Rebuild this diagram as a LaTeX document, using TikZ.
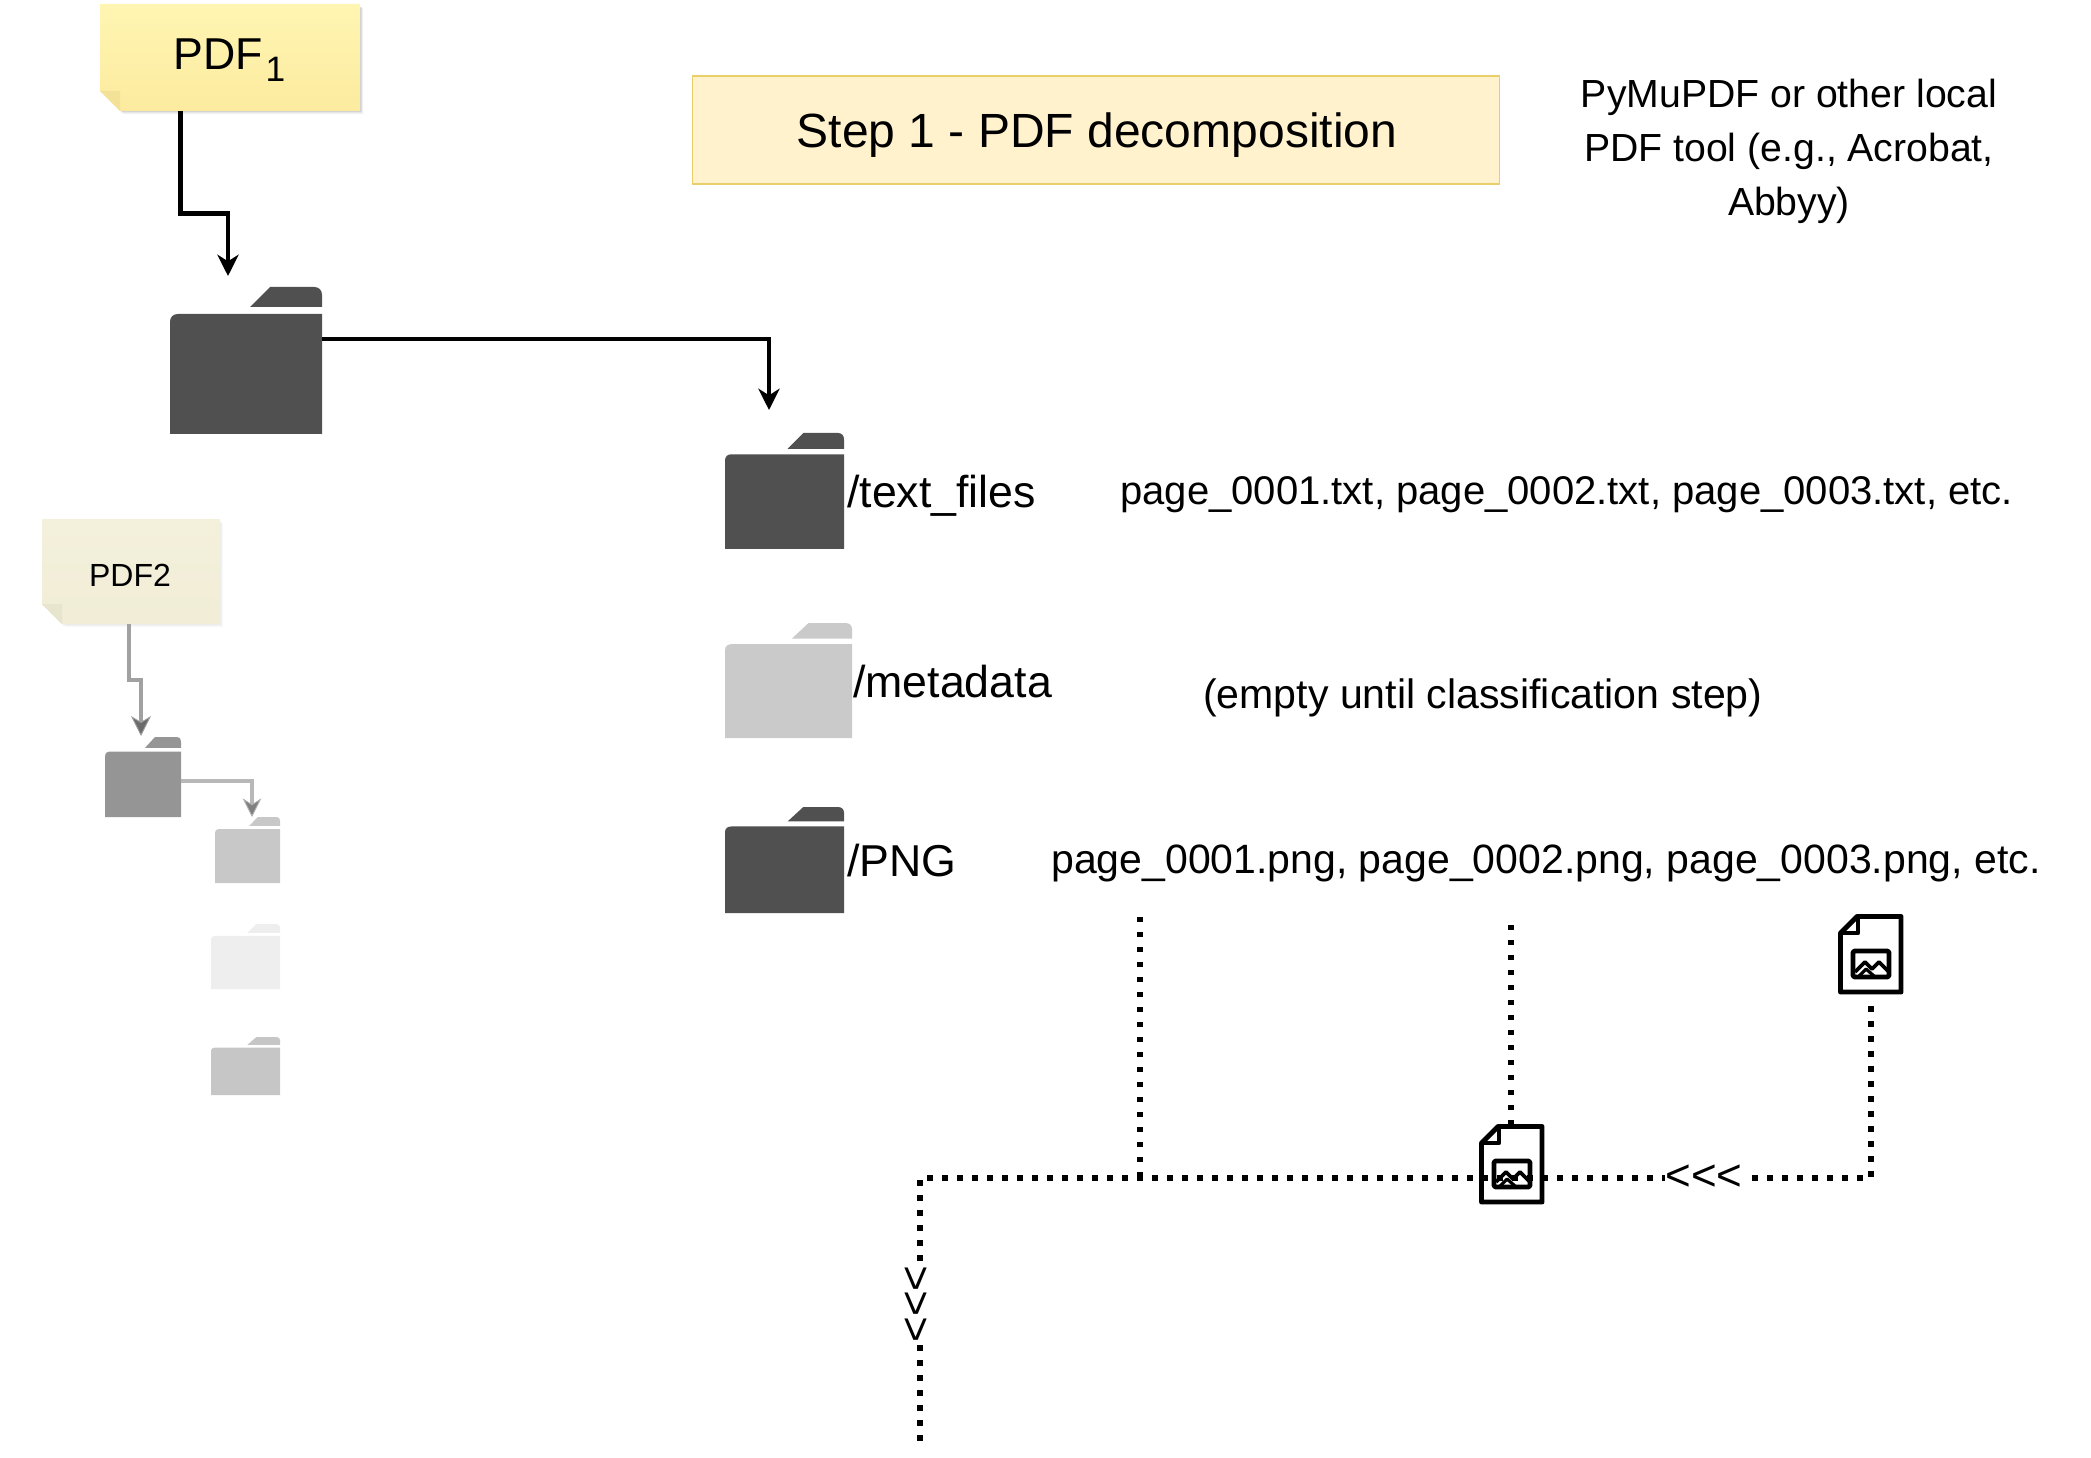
\documentclass[tikz,border=0pt]{standalone}
\usepackage{fontspec}
\setmainfont{Liberation Sans}
\usetikzlibrary{arrows.meta,calc,fit}
\definecolor{darkf}{HTML}{505050}
\definecolor{metaf}{HTML}{CACACA}
\definecolor{gmain}{HTML}{959595}
\definecolor{gtext}{HTML}{C8C8C8}
\definecolor{gmeta}{HTML}{EEEEEE}
\definecolor{gpng}{HTML}{C6C6C6}
\definecolor{titlefill}{HTML}{FFF2CC}
\definecolor{titleline}{HTML}{E8CF6A}
\definecolor{notetop}{HTML}{FFF5B2}
\definecolor{notebot}{HTML}{FCEB9F}
\definecolor{notefold}{HTML}{F2E196}
\definecolor{palesttop}{HTML}{F3F0DC}
\definecolor{palestbot}{HTML}{F1EDD6}
\definecolor{palestfold}{HTML}{E8E5CE}
\newcommand{\fsz}[1]{\fontsize{#1}{#1}\selectfont}
\tikzset{
  blackarrow/.style={draw=black,line width=3.4pt,-{Stealth[length=16pt,width=16pt,inset=5pt]}},
  greyarrow/.style={draw=black!37,line width=3pt,-{Stealth[length=15pt,width=15pt,inset=4.5pt,color=black!37,fill=black!58,line width=.6pt]}},
  paleyarrow/.style={draw=black!28,line width=3pt,-{Stealth[length=14pt,width=14pt,inset=4.5pt,color=black!30,fill=black!50,line width=.6pt]}},
  dots/.style={draw=black,line width=4pt,dash pattern=on 4pt off 7.25pt},
  label/.style={inner sep=0pt,anchor=base west,text=black},
  glyphs/.style={inner sep=0pt,fill=white,text=black,font=\fsz{33}},
}
% name, x0, ytop, x1, ybottom, colour
\newcommand{\folderbox}[6]{%
  \pgfmathsetmacro{\fw}{(#4-#2)/152}\pgfmathsetmacro{\fh}{(#5-#3)/147}%
  \begin{scope}[shift={(#2,#3)},xscale=\fw,yscale=\fh]
    \fill[#6] (0,147) -- (0,35) .. controls (0,30) and (3,27) .. (8,27) -- (152,27) -- (152,147) -- cycle;
    \fill[#6] (80,20) -- (100,0) -- (144,0) .. controls (149,0) and (152,3) .. (152,8) -- (152,20) -- cycle;
  \end{scope}
  \node[fit={(#2,#3)(#4,#5)},inner sep=0pt] (#1) {};%
}
% name, x0, y0, x1, y1, top colour, bottom colour, fold colour, shadow opacity
\newcommand{\notebox}[9]{%
  \pgfmathsetmacro{\halfop}{#9*0.5}%
  \fill[black,opacity=\halfop] (#2+4,#3+4) -- (#4+3,#3+4) -- (#4+3,#5+3) -- (#2+23,#5+3) -- cycle;
  \fill[black,opacity=#9] (#2+4,#3+3) -- (#4+1.5,#3+3) -- (#4+1.5,#5+1.5) -- (#2+21,#5+1.5) -- cycle;
  \shade[top color=#6,bottom color=#7] (#2,#3) -- (#4,#3) -- (#4,#5) -- (#2+20,#5) -- (#2,#5-20) -- cycle;
  \fill[#8] (#2,#5-20) -- (#2+20,#5-20) -- (#2+20,#5) -- cycle;
  \node[fit={(#2,#3)(#4,#5)},inner sep=0pt] (#1) {};%
}
% name, x0, y0
\newcommand{\docicon}[3]{%
  \begin{scope}[shift={(#2,#3)},line join=round]
    \draw[line width=3.7pt] (2.5,19) -- (19,2.5) -- (63,2.5) -- (63,78) -- (2.5,78) -- cycle;
    \draw[line width=3.2pt] (20,4) -- (20,19) -- (4,19);
    \draw[line width=3.5pt,rounded corners=1pt] (15,37) rectangle (51,63);
    \draw[line width=2.8pt] (17,58) -- (27,48) -- (34,55) -- (41,48) -- (50,57);
    \draw[line width=2.4pt] (21,62) -- (28,55) -- (36,62);
  \end{scope}
  \node[fit={(#2,#3)(#2+65,#3+80)},inner sep=0pt] (#1) {};%
}
\begin{document}
\begin{tikzpicture}[x=0.75pt,y=-0.75pt]
\useasboundingbox (0,0) rectangle (2091,1458);

% notes
\notebox{pdfa}{100}{4}{360}{111}{notetop}{notebot}{notefold}{.12}
\node[inner sep=0pt,font=\fsz{33.5}] (pdfatext) at (229.5,60) {PDF\raisebox{-9pt}{\kern2pt\fsz{26.5}1}};
\notebox{pdfb}{42}{519}{220}{624}{palesttop}{palestbot}{palestfold}{.05}
\node[inner sep=0pt,font=\fsz{24}] (pdfbtext) at (130,575) {PDF2};

% title
\node[draw=titleline,fill=titlefill,line width=.9pt,minimum width=605pt,minimum height=81pt,inner sep=0pt] (title) at (1096,130) {};
\node[inner sep=0pt,font=\fsz{36}] (titletext) at (1097,135) {Step 1 - PDF decomposition};
\node[align=center,inner sep=0pt,font=\fontsize{29.4}{40.5}\selectfont,text=black] (tool) at (1789,151) {PyMuPDF or other local\\PDF tool (e.g., Acrobat,\\Abbyy)};

% folders
\folderbox{f1}{170}{287}{322}{434}{darkf}
\folderbox{ftext}{725}{433}{844}{549}{darkf}
\folderbox{fmeta}{725}{623}{852}{738}{metaf}
\folderbox{fpng}{725}{807}{844}{913}{darkf}
\folderbox{g1}{105}{737}{181}{817}{gmain}
\folderbox{gt}{215}{817}{280}{883}{gtext}
\folderbox{gm}{211}{924}{280}{989}{gmeta}
\folderbox{gp}{211}{1037}{280}{1095}{gpng}

% folder labels
\node[label,font=\fsz{33.5}] (ltext) at (847,508) {/text\_files};
\node[label,font=\fsz{33.5}] (lmeta) at (853,697) {/metadata};
\node[label,font=\fsz{33.5}] (lpng) at (847,876) {/PNG};
\node[label,font=\fsz{30.03}] (ptxt) at (1120,504) {page\_0001.txt, page\_0002.txt, page\_0003.txt, etc.};
\node[label,font=\fsz{30.8}] (pempty) at (1203,708) {(empty until classification step)};
\node[label,font=\fsz{30.75}] (ppng) at (1051,873) {page\_0001.png, page\_0002.png, page\_0003.png, etc.};

% connector coordinates
\coordinate (a0) at ($(pdfa.south west)+(81,0)$);
\coordinate (a1) at (228,276);
\coordinate (b1) at (769,410);
\coordinate (c0) at ($(pdfb.south west)+(87,0)$);
\coordinate (c1) at (141,736);
\coordinate (d1) at (252,817);
\coordinate (p1) at (1140,917);
\coordinate (p2) at (1511,925);
\coordinate (corner) at (1871,1178);
\coordinate (left) at (920,1178);
\coordinate (bottom) at (920,1448);

% arrows
\draw[blackarrow] (a0) |- ($(a0)!0.62!(a1)$) -| (a1);
\draw[blackarrow] ($(f1.north east)!0.354!(f1.south east)$) -| (b1);
\draw[greyarrow] (c0) |- ($(c0)!0.5!(c1)$) -| (c1);
\draw[paleyarrow] ($(g1.north east)!0.55!(g1.south east)$) -| (d1);

% dotted lines
\docicon{doca}{1838}{914}
\docicon{docb}{1479}{1124}
\draw[dots] (doca.south -| corner) ++(0,12) -- (corner) -- (left) -- (bottom);
\draw[dots] (p1) -- (p1 |- left);
\draw[dots] (p2) -- (docb.north -| p2);
\node[glyphs] (arrl) at (1704,1178) {<{}<{}<};
\node[glyphs,rotate=90] (arrd) at (917.5,1304) {<{}<{}<};
\end{tikzpicture}
\end{document}
